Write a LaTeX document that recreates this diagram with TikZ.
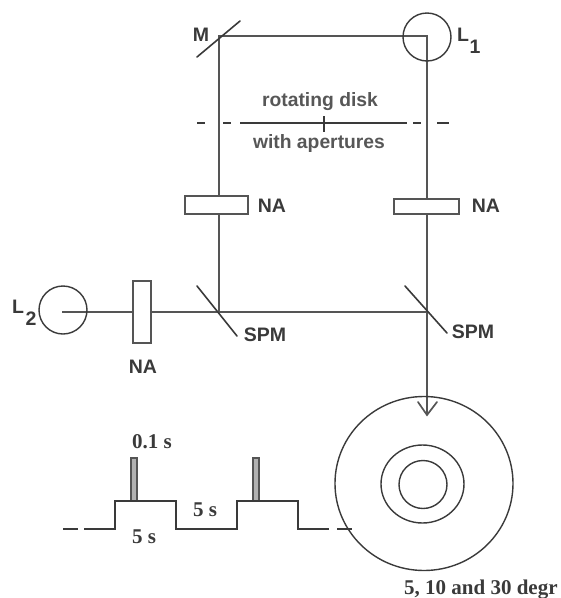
\documentclass[tikz,border=0pt]{standalone}
\usepackage{fontspec}
\setmainfont{Liberation Serif}
\setsansfont{Liberation Sans}
\definecolor{ink}{HTML}{555555}
\definecolor{txt}{HTML}{3A3A3A}
\tikzset{
  beam/.style={draw=ink,line width=1.7pt},
  mirror/.style={draw=txt,line width=1.6pt},
  thin dash/.style={draw=txt,line width=1.4pt},
  filterbox/.style={draw=ink,fill=white,line width=1.6pt,inner sep=0pt,minimum width=#1},
  lamp/.style={draw=txt,line width=1.4pt,circle,inner sep=0pt,minimum size=48pt},
  ring/.style={draw=txt,line width=1.4pt,ellipse,inner sep=0pt},
  lab/.style={font=\sffamily\bfseries\fontsize{19.5}{22}\selectfont,text=txt,inner sep=0pt},
  sublab/.style={font=\sffamily\bfseries\fontsize{19.3}{22}\selectfont,text=txt!85,inner sep=0pt},
  serlab/.style={font=\rmfamily\bfseries\fontsize{21}{24}\selectfont,text=txt,inner sep=0pt},
  spike/.style={draw=ink,fill=gray!60,line width=1.2pt}
}
\usetikzlibrary{shapes.geometric}
\begin{document}
\begin{tikzpicture}[x=1pt,y=-1pt]
\useasboundingbox (0,0) rectangle (561,598);
% coordinates
\coordinate (tl) at (219,36);
\coordinate (tr) at (427,36);
\coordinate (bl) at (219,312);
\coordinate (br) at (427,312);
\coordinate (src2) at (62,312);
\coordinate (tip) at (427,415);
% beams
\draw[beam] (bl) -- (tl) -- (tr) -- (br);
\draw[beam] (src2) -- (br);
\draw[beam] (br) -- (tip);
\draw[beam,line cap=round] (418,402) -- (tip) -- (437,402);
% lamps
\node[lamp] (L1) at (427,37) {};
\node[lamp] (L2) at (63,310) {};
% filters
\node[filterbox=63pt,minimum height=18pt] (naA) at (216.5,205) {};
\node[filterbox=65pt,minimum height=15pt] (naB) at (426.5,206.5) {};
\node[filterbox=18pt,minimum height=62pt] (naC) at (142,312) {};
% mirrors
\draw[mirror,line cap=round] (197,57) -- (240,21);
\draw[mirror,line cap=round] (197,286) -- (237,336);
\draw[mirror,line cap=round] (405,286) -- (447,333);
% disk
\draw[thin dash] (197,123) -- (205,123);
\draw[thin dash] (223,123) -- (231,123);
\draw[thin dash] (240,123) -- (407,123);
\draw[thin dash] (413,123) -- (421,123);
\draw[thin dash] (437,123) -- (449,123);
\draw[thin dash] (324,116) -- (324,132);
% labels
\node[sublab] (tdisk) at (320,102) {rotating disk};
\node[sublab] (tapert) at (319,144) {with apertures};
\node[lab] (tM) at (201,35) {M};
\node[lab] (tLa) at (463,35) {L};
\node[lab] (tLb) at (475,47) {1};
\node[lab] (tLc) at (18,307) {L};
\node[lab] (tLd) at (31,319) {2};
\node[lab] (tNa) at (272,206) {NA};
\node[lab] (tNb) at (486,206) {NA};
\node[lab] (tNc) at (143,367) {NA};
\node[lab] (tSa) at (265,335) {SPM};
\node[lab] (tSb) at (473,332) {SPM};
% target
\node[ring,minimum width=178pt,minimum height=174pt] (big) at (424,483.5) {};
\node[ring,minimum width=83pt,minimum height=78pt] (mid) at (422.5,484) {};
\node[ring,minimum width=48pt,minimum height=48pt] (small) at (423,484.5) {};
% pulses
\draw[thin dash] (63,529) -- (78,529);
\draw[spike] (131,501) -- (131,458) -- (137,458) -- (137,501) -- cycle;
\draw[spike] (253,501) -- (253,458) -- (259,458) -- (259,501) -- cycle;
\draw[thin dash] (84,529) -- (115,529) -- (115,501) -- (176,501) -- (176,529) -- (237,529) -- (237,501) -- (298,501) -- (298,529) -- (329,529);
\draw[thin dash] (337,529) -- (352,529);
\node[serlab] (t01) at (152,442) {0.1 s};
\node[serlab] (t5a) at (205,510) {5 s};
\node[serlab] (t5b) at (144,537) {5 s};
\node[serlab,anchor=base west] (tcap) at (404,594) {5, 10 and 30 degr};
\end{tikzpicture}
\end{document}
